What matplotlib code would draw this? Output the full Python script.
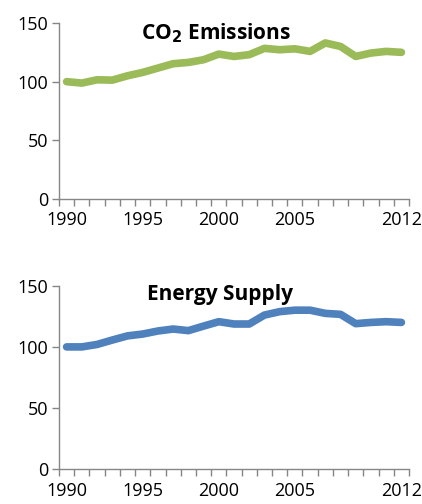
import matplotlib
matplotlib.use("Agg")
import matplotlib.pyplot as plt
import numpy as np

years = list(range(1990, 2013))
co2 = [100, 98.8, 101.6, 101.3, 105, 107.9, 111.6, 115.3, 116.4, 118.7, 123.5, 121.5,
       123, 128.4, 127.2, 128, 125.8, 133, 130, 121.5, 124.4, 125.8, 125]
energy = [100, 100, 102, 105.6, 109, 110.5, 113, 114.6, 113.3, 117, 120.6, 118.7,
          118.7, 126, 128.8, 130, 130, 127.4, 126.6, 119, 120, 120.6, 120]
labelled_years = [1990, 1995, 2000, 2005, 2012]
yticks = [0, 50, 100, 150]

plt.rcParams['font.family'] = ['Open Sans', 'DejaVu Sans']

fig = plt.figure(figsize=(4.22, 5.04), dpi=100)
W, H = 422, 504
ax1 = fig.add_axes([59 / W, 1 - 199 / H, 350 / W, 176 / H])
ax2 = fig.add_axes([59 / W, 1 - 469.3 / H, 350 / W, 183.6 / H])

panels = [(ax1, co2, '#9BBB59', 'CO$_\\mathbf{2}$ Emissions', 0.45, 0.94),
          (ax2, energy, '#4F81BD', 'Energy Supply', 0.46, 0.95)]

spine_col = '#868686'
for ax, vals, col, title, tx, ty in panels:
    x = np.arange(len(years))
    ax.plot(x, vals, color=col, lw=5.5, solid_capstyle='round', solid_joinstyle='round')
    ax.set_xlim(-0.5, len(years) - 0.5)
    ax.set_ylim(0, 150)
    ax.set_yticks(yticks)
    ax.set_xticks([years.index(y) for y in labelled_years])
    ax.set_xticklabels([str(y) for y in labelled_years])
    ax.set_xticks(np.arange(-0.5, len(years)), minor=True)
    ax.tick_params(axis='x', which='major', length=0, pad=9, labelsize=13, colors='black')
    ax.tick_params(axis='x', which='minor', length=5, width=1, color=spine_col, direction='out')
    ax.tick_params(axis='y', length=5, width=1, color=spine_col, direction='out', labelsize=13, pad=3)
    for s in ['top', 'right']:
        ax.spines[s].set_visible(False)
    for s in ['left', 'bottom']:
        ax.spines[s].set_color(spine_col)
        ax.spines[s].set_linewidth(1)
    ax.text(tx, ty, title, transform=ax.transAxes, ha='center', va='center',
            fontsize=15, fontweight='bold')

fig.savefig('out.png', dpi=100)
